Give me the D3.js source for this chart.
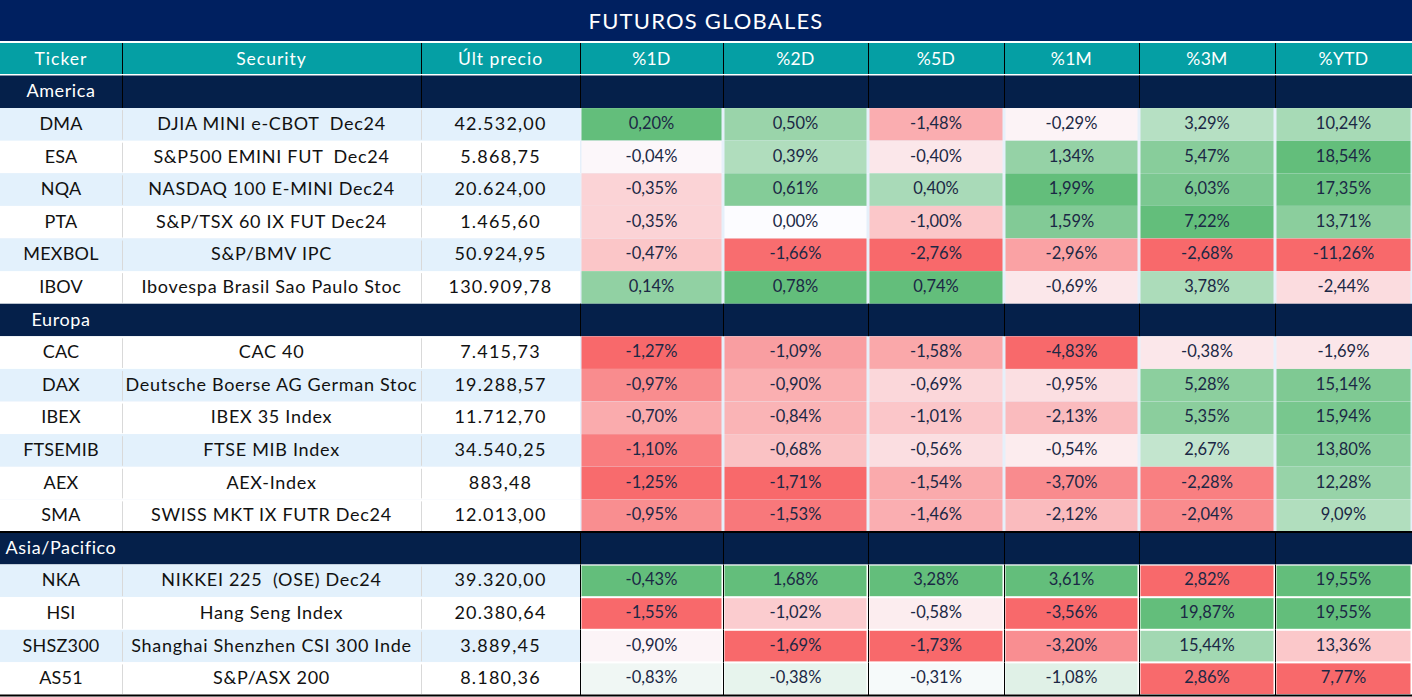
<!DOCTYPE html>
<html><head><meta charset="utf-8">
<script src="https://cdn.jsdelivr.net/npm/d3@7"></script>
<style>
html,body{margin:0;padding:0;background:#fff;}
svg{display:block;font-family:"Lato","Open Sans",sans-serif;}
svg text{white-space:pre;}
</style></head>
<body><svg id="chart" width="1412" height="697"></svg>
<script>
// ---------- data ----------
const title = "FUTUROS GLOBALES";
const headers = ["Ticker","Security","Últ precio","%1D","%2D","%5D","%1M","%3M","%YTD"];
const regions = ["America","Europa","Asia/Pacifico"];
const tickers = ["DMA","ESA","NQA","PTA","MEXBOL","IBOV","CAC","DAX","IBEX","FTSEMIB","AEX","SMA","NKA","HSI","SHSZ300","AS51"];
const securities = ["DJIA MINI e-CBOT  Dec24","S&P500 EMINI FUT  Dec24","NASDAQ 100 E-MINI Dec24","S&P/TSX 60 IX FUT Dec24","S&P/BMV IPC","Ibovespa Brasil Sao Paulo Stoc","CAC 40","Deutsche Boerse AG German Stoc","IBEX 35 Index","FTSE MIB Index","AEX-Index","SWISS MKT IX FUTR Dec24","NIKKEI 225  (OSE) Dec24","Hang Seng Index","Shanghai Shenzhen CSI 300 Inde","S&P/ASX 200"];
const rowRegion = [0,0,0,0,0,0,1,1,1,1,1,1,2,2,2,2];
const prices = [42532.00,5868.75,20624.00,1465.60,50924.95,130909.78,7415.73,19288.57,11712.70,34540.25,883.48,12013.00,39320.00,20380.64,3889.45,8180.36];
const pct1D  = [0.20,-0.04,-0.35,-0.35,-0.47,0.14,-1.27,-0.97,-0.70,-1.10,-1.25,-0.95,-0.43,-1.55,-0.90,-0.83];
const pct2D  = [0.50,0.39,0.61,0.00,-1.66,0.78,-1.09,-0.90,-0.84,-0.68,-1.71,-1.53,1.68,-1.02,-1.69,-0.38];
const pct5D  = [-1.48,-0.40,0.40,-1.00,-2.76,0.74,-1.58,-0.69,-1.01,-0.56,-1.54,-1.46,3.28,-0.58,-1.73,-0.31];
const pct1M  = [-0.29,1.34,1.99,1.59,-2.96,-0.69,-4.83,-0.95,-2.13,-0.54,-3.70,-2.12,3.61,-3.56,-3.20,-1.08];
const pct3M  = [3.29,5.47,6.03,7.22,-2.68,3.78,-0.38,5.28,5.35,2.67,-2.28,-2.04,2.82,19.87,15.44,2.86];
const pctYTD = [10.24,18.54,17.35,13.71,-11.26,-2.44,-1.69,15.14,15.94,13.80,12.28,9.09,19.55,19.55,13.36,7.77];
// colour-scale groups (conditional formatting ranges): America+Europa use 0 as midpoint, Asia uses the median
const scaleGroupOfRegion = [0,0,1];
const groupMidpoint = ["zero","median"];

// ---------- layout ----------
const W = 1412, H = 697;
const colEdges = [0,122,421,580,723,868,1004,1139,1275,1412];
const titleH = 41, headY0 = 43, headY1 = 74;
const pctCols = [pct1D,pct2D,pct5D,pct1M,pct3M,pctYTD];

const locale = d3.formatLocale({decimal:",",thousands:".",grouping:[3],currency:["","€"],minus:"-"});
const fmtPrice = locale.format(",.2f");
const fmtPct = v => locale.format(".2f")(v) + "%";

// build display rows
const rows = [];
regions.forEach((r,ri)=>{
  rows.push({type:"region",label:r,ri});
  let k=0;
  tickers.forEach((t,i)=>{ if(rowRegion[i]===ri){ rows.push({type:"data",i,ri,k}); k++; } });
});

const y = d3.scaleBand().domain(d3.range(rows.length)).range([75.5,695]).padding(0);
const svg = d3.select("#chart");

// title
svg.append("rect").attr("x",0).attr("y",0).attr("width",W).attr("height",titleH).attr("fill","#002060");
svg.append("text").attr("x",W/2).attr("y",20).attr("text-anchor","middle").attr("dominant-baseline","central")
  .attr("fill","#fff").attr("font-size",22).attr("letter-spacing",1.2).text(title);

// header
svg.append("rect").attr("x",0).attr("y",headY0).attr("width",W).attr("height",headY1-headY0).attr("fill","#059FA4");
headers.forEach((h,c)=>{
  const x0=colEdges[c], x1=colEdges[c+1];
  svg.append("text").attr("x",(x0+x1)/2).attr("y",58).attr("text-anchor","middle").attr("dominant-baseline","central")
    .attr("fill","#fff").attr("font-size",17.5).attr("letter-spacing", c<3 ? 1 : 0.3).text(h);
  if(c>0) svg.append("line").attr("x1",x0+0.5).attr("x2",x0+0.5).attr("y1",headY0).attr("y2",headY1).attr("stroke","#000").attr("stroke-width",1);
});

// colour scales per group & column
const red="#F8696B", white="#FCFCFF", green="#63BE7B";
const colorScales = pctCols.map(arr=>{
  return [0,1].map(g=>{
    const vals = arr.filter((v,i)=>scaleGroupOfRegion[rowRegion[i]]===g);
    const mn=d3.min(vals), mx=d3.max(vals);
    const mid = groupMidpoint[g]==="zero" ? 0 : d3.median(vals);
    return d3.scaleLinear().domain([mn,mid,mx]).range([red,white,green]).interpolate(d3.interpolateRgb).clamp(true);
  });
});

const leftFont = [{size:18,ls:0.2},{size:18,ls:0.7},{size:18,ls:1.2}];

// rows
rows.forEach((row,idx)=>{
  const y0=y(idx), h=y.bandwidth();
  const ty = y0 + h/2 - 1.5;
  const g = svg.append("g");
  if(row.type==="region"){
    g.append("rect").attr("x",0).attr("y",y0).attr("width",W).attr("height",h).attr("fill","#05204A");
    g.append("text").attr("x",(colEdges[0]+colEdges[1])/2).attr("y",ty).attr("text-anchor","middle")
      .attr("dominant-baseline","central").attr("fill","#fff").attr("font-size",18).attr("letter-spacing",0.6).text(row.label);
    const startC = row.ri===0 ? 1 : 3;
    for(let c=startC;c<colEdges.length-1;c++){
      g.append("line").attr("x1",colEdges[c]+0.5).attr("x2",colEdges[c]+0.5).attr("y1",y0).attr("y2",y0+h).attr("stroke","#000");
    }
    if(row.ri===2){
      g.append("line").attr("x1",0).attr("x2",W).attr("y1",y0).attr("y2",y0).attr("stroke","#000").attr("stroke-width",2);
    }
  } else {
    const i=row.i;
    const blue = (row.ri===1) ? (row.k===1||row.k===3) : (row.k%2===0);
    const bg = blue ? "#E3F1FC" : "#FFFFFF";
    g.append("rect").attr("x",0).attr("y",y0).attr("width",W).attr("height",h).attr("fill", row.ri===2 ? "#FFFFFF" : "#E6F0FA");
    g.append("rect").attr("x",0).attr("y",y0).attr("width",colEdges[3]).attr("height",h).attr("fill",bg);
    [1,2].forEach(c=>g.append("line").attr("x1",colEdges[c]+0.5).attr("x2",colEdges[c]+0.5).attr("y1",y0+2).attr("y2",y0+h-1).attr("stroke","#D9D9D9"));
    const leftVals=[tickers[i],securities[i],fmtPrice(prices[i])];
    leftVals.forEach((t,c)=>{
      g.append("text").attr("x",(colEdges[c]+colEdges[c+1])/2).attr("y",ty).attr("text-anchor","middle")
        .attr("dominant-baseline","central").attr("fill","#111")
        .attr("font-size",leftFont[c].size).attr("letter-spacing",leftFont[c].ls).text(t);
    });
    const grp = scaleGroupOfRegion[row.ri];
    pctCols.forEach((arr,j)=>{
      const c=j+3, x0=colEdges[c], x1=colEdges[c+1];
      const v=arr[i];
      const asia = row.ri===2;
      g.append("rect").attr("x",x0+1.5).attr("y",asia? y0+1 : y0).attr("width",x1-x0-3).attr("height",asia? h-2 : h)
        .attr("fill",colorScales[j][grp](v));
      if(asia) g.append("line").attr("x1",x0+0.5).attr("x2",x0+0.5).attr("y1",y0).attr("y2",y0+h).attr("stroke","#000");
      g.append("text").attr("x",(x0+x1)/2).attr("y",ty).attr("text-anchor","middle").attr("dominant-baseline","central")
        .attr("fill","#1B2845").attr("font-size",16.5).text(fmtPct(v));
    });
  }
});
// bottom line
svg.append("line").attr("x1",0).attr("x2",W).attr("y1",695.5).attr("y2",695.5).attr("stroke","#000").attr("stroke-width",2);
</script></body></html>
